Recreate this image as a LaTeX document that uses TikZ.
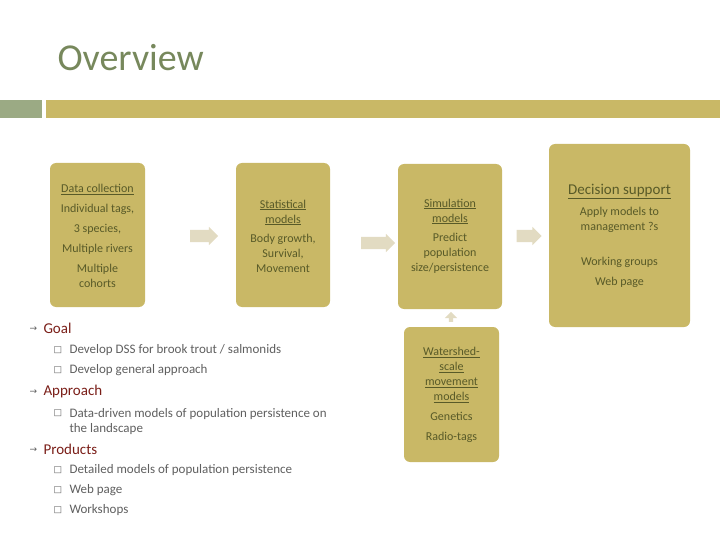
\documentclass[tikz,border=0pt]{standalone}
\usepackage{fontspec}
\setmainfont{Carlito}
\newfontfamily\dv{DejaVu Sans}
\usetikzlibrary{shapes.arrows}
\definecolor{boxc}{HTML}{C9B866}
\definecolor{arrc}{HTML}{E2DBC2}
\definecolor{txt}{HTML}{585A28}
\definecolor{ttl}{HTML}{77885C}
\definecolor{bar1}{HTML}{9BAA84}
\definecolor{hd}{HTML}{7A1E18}
\definecolor{gr}{HTML}{5F5F5F}
\tikzset{
 bx/.style={fill=boxc,rounded corners=6pt,draw=none},
 bt/.style={text=txt,align=center,font=\fontsize{12}{15}\selectfont},
 ar/.style={single arrow,fill=arrc,draw=none,minimum height=#1,single arrow head extend=3pt,inner sep=6pt},
 hh/.style={anchor=west,text=hd,font=\fontsize{15}{18}\selectfont},
 it/.style={anchor=west,text=gr,font=\fontsize{13}{15}\selectfont,align=left},
 bl/.style={anchor=west,text=gr,font=\dv\fontsize{9}{10}\selectfont},
}
\begin{document}
\begin{tikzpicture}[x=1pt,y=-1pt]
\useasboundingbox (0,0) rectangle (720,540);
\node[anchor=west,text=ttl,font=\fontsize{38}{40}\selectfont] (title) at (54,58) {Overview};
\fill[bar1] (0,100) rectangle (42,118);
\fill[boxc] (46,100) rectangle (720,118);
% boxes
\fill[bx] (50,163) rectangle (145,307);
\fill[bx] (236,163) rectangle (330,307);
\fill[bx] (398,164) rectangle (502,309);
\fill[bx] (549,144) rectangle (690,327);
\fill[bx] (404,327) rectangle (499,462);
\node[bt] (dc) at (97.5,236) {\underline{Data collection}\\[5pt]Individual tags,\\[5pt]3 species,\\[5pt]Multiple rivers\\[5pt]Multiple\\cohorts};
\node[bt] (sm) at (283,236) {\underline{Statistical}\\\underline{models}\\[4pt]Body growth,\\Survival,\\Movement};
\node[bt] (sim) at (450,236) {\underline{Simulation}\\\underline{models}\\[4pt]Predict\\population\\size/persistence};
\node[bt] (ds) at (619.5,236) {{\fontsize{15}{18}\selectfont\underline{Decision support}}\\[6pt]Apply models to\\management ?s\\[20pt]Working groups\\[5pt]Web page};
\node[bt] (ws) at (451.5,395) {\underline{Watershed-}\\\underline{scale}\\\underline{movement}\\\underline{models}\\[5pt]Genetics\\[5pt]Radio-tags};
% arrows
\node[ar=28pt] (a1) at (201,236) {};
\node[ar=34pt] (a2) at (375,243) {};
\node[ar=25pt] (a3) at (526,236) {};
\node[ar=10pt,shape border rotate=90,inner sep=2pt,single arrow head extend=4pt] (a4) at (451,318) {};
% bullets
\node[bl] (b1) at (26,329) {→}; \node[hh] (g) at (40,328) {Goal};
\node[bl] (s1) at (50,350) {□}; \node[it] (t1) at (66,350) {Develop DSS for brook trout / salmonids};
\node[bl] (s2) at (50,370) {□}; \node[it] (t2) at (66,370) {Develop general approach};
\node[bl] (b2) at (26,392) {→}; \node[hh] (ap) at (40,391) {Approach};
\node[bl] (s3) at (50,413) {□}; \node[it,anchor=north west] (t3) at (66,405) {Data-driven models of population persistence on\\the landscape};
\node[bl] (b3) at (26,450) {→}; \node[hh] (pr) at (40,449) {Products};
\node[bl] (s4) at (50,470) {□}; \node[it] (t4) at (66,470) {Detailed models of population persistence};
\node[bl] (s5) at (50,490) {□}; \node[it] (t5) at (66,490) {Web page};
\node[bl] (s6) at (50,510) {□}; \node[it] (t6) at (66,510) {Workshops};
\end{tikzpicture}
\end{document}
